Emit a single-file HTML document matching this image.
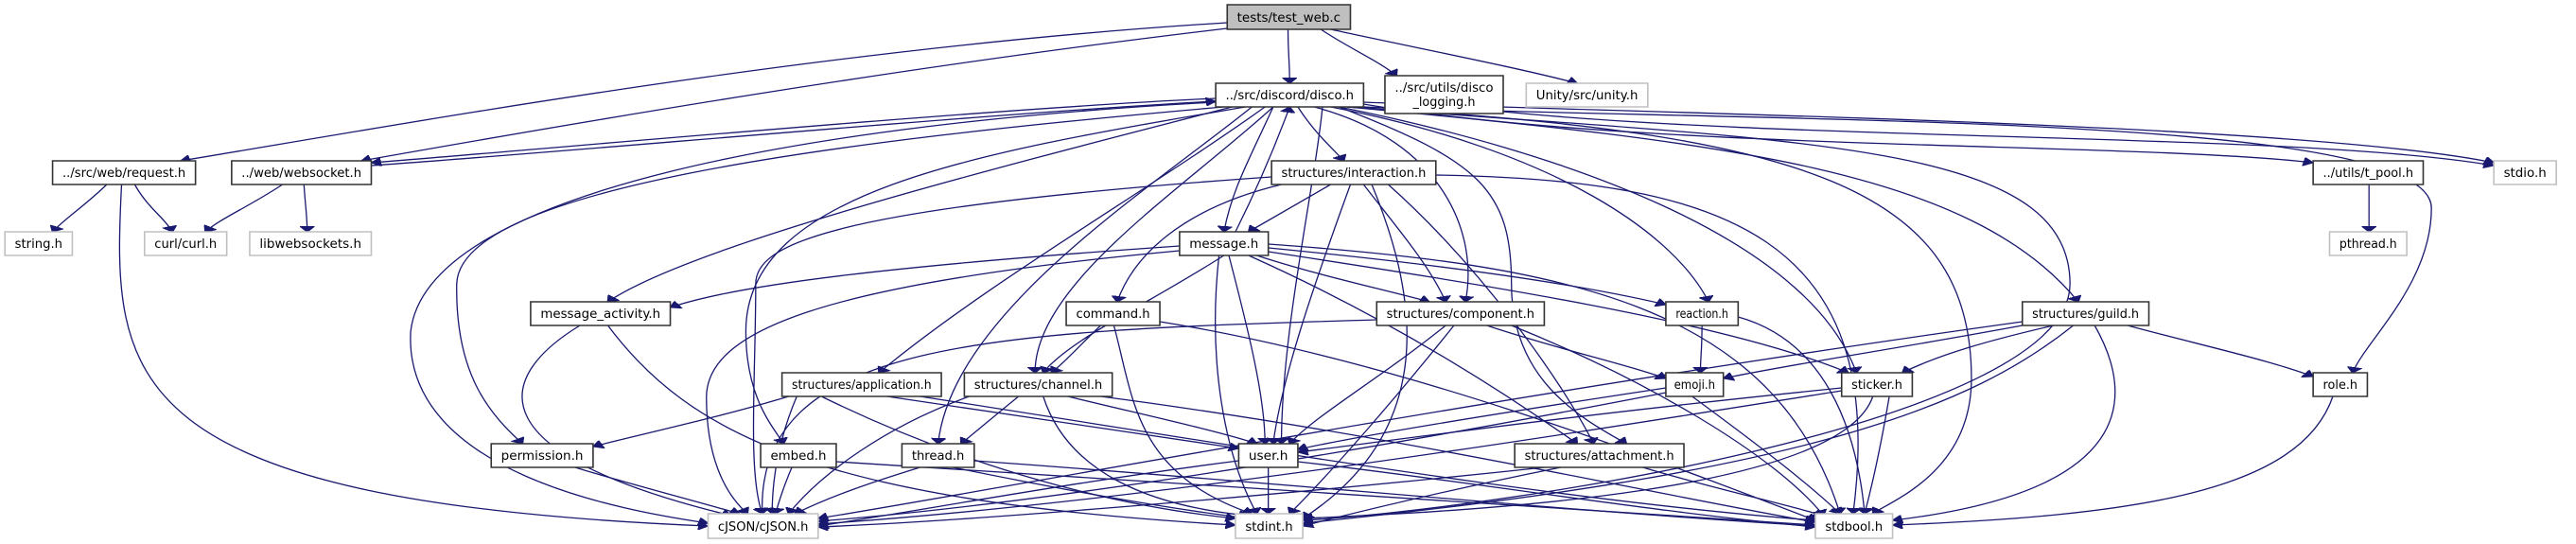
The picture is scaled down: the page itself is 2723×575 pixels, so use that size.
<!DOCTYPE html>
<html><head><meta charset="utf-8"><style>
html,body{margin:0;padding:0;background:#fff;}
svg{display:block;}
.b{fill:#fff;stroke:#333;stroke-width:1.6;vector-effect:non-scaling-stroke;}
.g{fill:#fff;stroke:#c0c0c0;stroke-width:1.6;vector-effect:non-scaling-stroke;}
.t{font-family:"DejaVu Sans","Liberation Sans",sans-serif;font-size:13px;fill:#000;text-anchor:middle;}
.e path{fill:none;stroke:#191970;stroke-width:1.3;vector-effect:non-scaling-stroke;}
</style></head><body>
<svg width="2723" height="575" viewBox="0 0 1568 575" preserveAspectRatio="none" xmlns="http://www.w3.org/2000/svg">
<defs><marker id="a" markerUnits="userSpaceOnUse" markerWidth="6" markerHeight="9" refX="6" refY="4.5" orient="auto"><path d="M0,0 L6,4.5 L0,9 z" fill="#191970" stroke="#191970"/></marker></defs>
<g class="e">
<path d="M784 31 C784 60 785 60 785 88" marker-end="url(#a)"/>
<path d="M804 31 C820 50 840 65 850 80" marker-end="url(#a)"/>
<path d="M810 31 C860 50 920 70 960 88" marker-end="url(#a)"/>
<path d="M747 24 C500 50 250 130 110 170" marker-end="url(#a)"/>
<path d="M747 30 C550 70 350 130 220 170" marker-end="url(#a)"/>
<path d="M740 104 C600 115 350 155 226 172" marker-end="url(#a)"/>
<path d="M226 175 C350 160 600 120 740 107" marker-end="url(#a)"/>
<path d="M740 108 C500 130 260 200 250 350 C245 500 380 540 431 553" marker-end="url(#a)"/>
<path d="M745 113 C500 150 280 200 278 300 C277 400 300 440 318 469" marker-end="url(#a)"/>
<path d="M750 113 C600 180 420 260 370 319" marker-end="url(#a)"/>
<path d="M758 113 C600 160 454 200 454 350 C454 420 470 450 477 469" marker-end="url(#a)"/>
<path d="M762 113 C700 200 580 330 571 469" marker-end="url(#a)"/>
<path d="M770 113 C700 200 600 300 535 394" marker-end="url(#a)"/>
<path d="M775 113 C720 200 630 300 630 394" marker-end="url(#a)"/>
<path d="M775 113 C760 170 750 200 745 245" marker-end="url(#a)"/>
<path d="M752 245 C765 200 775 160 785 113" marker-end="url(#a)"/>
<path d="M790 113 C800 140 810 155 818 170" marker-end="url(#a)"/>
<path d="M800 113 C880 150 900 250 892 319" marker-end="url(#a)"/>
<path d="M805 113 C800 200 780 350 780 469" marker-end="url(#a)"/>
<path d="M810 113 C950 160 1020 250 1040 319" marker-end="url(#a)"/>
<path d="M815 113 C950 160 1100 250 1130 394" marker-end="url(#a)"/>
<path d="M815 113 C900 170 920 200 920 300 C920 400 960 440 990 469" marker-end="url(#a)"/>
<path d="M820 113 C1050 150 1200 180 1265 319" marker-end="url(#a)"/>
<path d="M820 113 C1100 140 1200 200 1200 400 C1200 500 1150 530 1140 543" marker-end="url(#a)"/>
<path d="M820 113 C1100 150 1260 150 1260 300 C1260 450 900 540 793 550" marker-end="url(#a)"/>
<path d="M830 110 C1000 160 1300 150 1408 172" marker-end="url(#a)"/>
<path d="M830 108 C1000 120 1400 130 1518 172" marker-end="url(#a)"/>
<path d="M830 113 C1100 130 1480 120 1480 220 C1480 300 1440 360 1432 394" marker-end="url(#a)"/>
<path d="M915 118 C1100 150 1400 140 1518 175" marker-end="url(#a)"/>
<path d="M172 195 C150 220 135 230 125 245" marker-end="url(#a)"/>
<path d="M185 195 C186 220 187 230 187 245" marker-end="url(#a)"/>
<path d="M65 195 C50 220 40 230 32 245" marker-end="url(#a)"/>
<path d="M82 195 C90 220 100 230 105 245" marker-end="url(#a)"/>
<path d="M74 195 C68 400 70 530 431 556" marker-end="url(#a)"/>
<path d="M1442 195 L1442 245" marker-end="url(#a)"/>
<path d="M810 195 C790 215 775 230 760 245" marker-end="url(#a)"/>
<path d="M780 195 C720 220 690 270 680 319" marker-end="url(#a)"/>
<path d="M830 195 C850 240 870 280 880 319" marker-end="url(#a)"/>
<path d="M822 195 C800 300 780 400 775 469" marker-end="url(#a)"/>
<path d="M774 187 C500 220 460 260 460 300 C460 400 455 500 464 543" marker-end="url(#a)"/>
<path d="M835 195 C860 300 880 450 793 548" marker-end="url(#a)"/>
<path d="M874 185 C1050 190 1150 250 1128 543" marker-end="url(#a)"/>
<path d="M845 195 C900 280 950 400 970 469" marker-end="url(#a)"/>
<path d="M718 260 C550 280 450 300 408 325" marker-end="url(#a)"/>
<path d="M745 270 C700 320 650 360 635 394" marker-end="url(#a)"/>
<path d="M748 270 C760 350 770 420 770 469" marker-end="url(#a)"/>
<path d="M742 270 C735 380 745 480 765 543" marker-end="url(#a)"/>
<path d="M765 270 C800 290 840 305 870 319" marker-end="url(#a)"/>
<path d="M772 262 C880 280 960 300 1014 322" marker-end="url(#a)"/>
<path d="M772 266 C900 300 1050 340 1125 394" marker-end="url(#a)"/>
<path d="M760 270 C850 340 920 420 960 469" marker-end="url(#a)"/>
<path d="M772 258 C950 280 1080 320 1120 543" marker-end="url(#a)"/>
<path d="M718 265 C500 300 430 350 430 420 C430 480 440 520 455 543" marker-end="url(#a)"/>
<path d="M353 344 C300 400 290 480 445 545" marker-end="url(#a)"/>
<path d="M370 344 C420 460 500 530 752 555" marker-end="url(#a)"/>
<path d="M670 344 C660 360 650 380 640 394" marker-end="url(#a)"/>
<path d="M678 344 C690 420 690 500 762 543" marker-end="url(#a)"/>
<path d="M706 340 C850 380 1000 480 1105 550" marker-end="url(#a)"/>
<path d="M838 338 C600 350 460 360 464 543" marker-end="url(#a)"/>
<path d="M905 344 C950 370 990 385 1014 400" marker-end="url(#a)"/>
<path d="M880 344 C840 400 800 440 785 469" marker-end="url(#a)"/>
<path d="M885 344 C850 420 810 500 785 543" marker-end="url(#a)"/>
<path d="M920 344 C1000 400 1080 480 1110 545" marker-end="url(#a)"/>
<path d="M1036 344 C1036 370 1035 380 1035 394" marker-end="url(#a)"/>
<path d="M1058 335 C1110 360 1130 450 1135 543" marker-end="url(#a)"/>
<path d="M1231 344 C1150 370 1090 385 1049 400" marker-end="url(#a)"/>
<path d="M1250 344 C1210 360 1180 375 1158 394" marker-end="url(#a)"/>
<path d="M1295 344 C1340 365 1380 380 1408 398" marker-end="url(#a)"/>
<path d="M1275 344 C1300 420 1300 520 1152 550" marker-end="url(#a)"/>
<path d="M1262 344 C1200 430 1100 500 793 553" marker-end="url(#a)"/>
<path d="M1231 340 C900 420 600 520 498 548" marker-end="url(#a)"/>
<path d="M480 419 C440 440 400 455 361 472" marker-end="url(#a)"/>
<path d="M540 419 C620 440 700 460 754 474" marker-end="url(#a)"/>
<path d="M500 419 C560 470 650 530 752 548" marker-end="url(#a)"/>
<path d="M560 419 C750 470 950 530 1105 550" marker-end="url(#a)"/>
<path d="M485 419 C475 460 470 500 470 543" marker-end="url(#a)"/>
<path d="M620 419 C605 440 595 455 585 469" marker-end="url(#a)"/>
<path d="M650 419 C700 440 740 455 765 469" marker-end="url(#a)"/>
<path d="M635 419 C650 500 700 535 760 545" marker-end="url(#a)"/>
<path d="M670 419 C850 460 1000 520 1105 552" marker-end="url(#a)"/>
<path d="M590 419 C540 450 500 500 480 543" marker-end="url(#a)"/>
<path d="M1014 410 C900 440 830 460 790 475" marker-end="url(#a)"/>
<path d="M1030 419 C1070 470 1100 510 1120 543" marker-end="url(#a)"/>
<path d="M1014 415 C850 470 650 530 498 551" marker-end="url(#a)"/>
<path d="M1121 410 C950 440 850 465 790 478" marker-end="url(#a)"/>
<path d="M1150 419 C1145 470 1140 510 1135 543" marker-end="url(#a)"/>
<path d="M1140 419 C1120 520 900 540 793 548" marker-end="url(#a)"/>
<path d="M1121 413 C950 460 700 530 498 554" marker-end="url(#a)"/>
<path d="M1420 419 C1400 520 1300 545 1152 555" marker-end="url(#a)"/>
<path d="M350 494 C380 510 420 528 450 543" marker-end="url(#a)"/>
<path d="M482 494 C478 510 475 525 472 543" marker-end="url(#a)"/>
<path d="M509 488 C700 510 950 535 1105 555" marker-end="url(#a)"/>
<path d="M560 494 C530 510 505 525 484 543" marker-end="url(#a)"/>
<path d="M580 494 C640 515 700 535 760 548" marker-end="url(#a)"/>
<path d="M593 487 C780 510 950 540 1105 556" marker-end="url(#a)"/>
<path d="M772 494 L772 543" marker-end="url(#a)"/>
<path d="M754 487 C650 510 560 540 498 556" marker-end="url(#a)"/>
<path d="M790 488 C900 510 1000 540 1105 557" marker-end="url(#a)"/>
<path d="M940 494 C800 520 600 550 498 557" marker-end="url(#a)"/>
<path d="M950 494 C890 515 840 535 793 556" marker-end="url(#a)"/>
<path d="M1000 494 C1040 515 1080 530 1110 545" marker-end="url(#a)"/>
</g>
<g>
<rect x="747" y="5" width="75" height="26" fill="#bfbfbf" stroke="#333" stroke-width="1.6" vector-effect="non-scaling-stroke"/><text class="t" x="784.5" y="23" textLength="63" lengthAdjust="spacingAndGlyphs">tests/test_web.c</text>
<rect class="b" x="740" y="88" width="90" height="25"/><text class="t" x="785" y="105" textLength="78" lengthAdjust="spacingAndGlyphs">../src/discord/disco.h</text>
<rect class="b" x="843" y="80" width="72" height="40"/><text class="t" x="879" y="97" textLength="60" lengthAdjust="spacingAndGlyphs">../src/utils/disco</text><text class="t" x="879" y="112" textLength="38" lengthAdjust="spacingAndGlyphs">_logging.h</text>
<rect class="g" x="929" y="88" width="74" height="25"/><text class="t" x="966" y="105" textLength="62" lengthAdjust="spacingAndGlyphs">Unity/src/unity.h</text>
<rect class="b" x="32" y="170" width="87" height="25"/><text class="t" x="75.5" y="187" textLength="75" lengthAdjust="spacingAndGlyphs">../src/web/request.h</text>
<rect class="b" x="141" y="170" width="85" height="25"/><text class="t" x="183.5" y="187" textLength="73" lengthAdjust="spacingAndGlyphs">../web/websocket.h</text>
<rect class="b" x="774" y="170" width="100" height="25"/><text class="t" x="824" y="187" textLength="88" lengthAdjust="spacingAndGlyphs">structures/interaction.h</text>
<rect class="b" x="1408" y="170" width="67" height="25"/><text class="t" x="1441.5" y="187" textLength="55" lengthAdjust="spacingAndGlyphs">../utils/t_pool.h</text>
<rect class="g" x="1518" y="170" width="38" height="25"/><text class="t" x="1537" y="187" textLength="26" lengthAdjust="spacingAndGlyphs">stdio.h</text>
<rect class="g" x="3" y="245" width="41" height="25"/><text class="t" x="23.5" y="262" textLength="29" lengthAdjust="spacingAndGlyphs">string.h</text>
<rect class="g" x="88" y="245" width="50" height="25"/><text class="t" x="113" y="262" textLength="38" lengthAdjust="spacingAndGlyphs">curl/curl.h</text>
<rect class="g" x="152" y="245" width="74" height="25"/><text class="t" x="189" y="262" textLength="62" lengthAdjust="spacingAndGlyphs">libwebsockets.h</text>
<rect class="b" x="718" y="245" width="54" height="25"/><text class="t" x="745" y="262" textLength="42" lengthAdjust="spacingAndGlyphs">message.h</text>
<rect class="g" x="1418" y="245" width="47" height="25"/><text class="t" x="1441.5" y="262" textLength="35" lengthAdjust="spacingAndGlyphs">pthread.h</text>
<rect class="b" x="323" y="319" width="85" height="25"/><text class="t" x="365.5" y="336" textLength="73" lengthAdjust="spacingAndGlyphs">message_activity.h</text>
<rect class="b" x="649" y="319" width="57" height="25"/><text class="t" x="677.5" y="336" textLength="45" lengthAdjust="spacingAndGlyphs">command.h</text>
<rect class="b" x="838" y="319" width="102" height="25"/><text class="t" x="889" y="336" textLength="90" lengthAdjust="spacingAndGlyphs">structures/component.h</text>
<rect class="b" x="1014" y="319" width="44" height="25"/><text class="t" x="1036" y="336" textLength="32" lengthAdjust="spacingAndGlyphs">reaction.h</text>
<rect class="b" x="1231" y="319" width="77" height="25"/><text class="t" x="1269.5" y="336" textLength="65" lengthAdjust="spacingAndGlyphs">structures/guild.h</text>
<rect class="b" x="476" y="394" width="97" height="25"/><text class="t" x="524.5" y="411" textLength="85" lengthAdjust="spacingAndGlyphs">structures/application.h</text>
<rect class="b" x="587" y="394" width="90" height="25"/><text class="t" x="632" y="411" textLength="78" lengthAdjust="spacingAndGlyphs">structures/channel.h</text>
<rect class="b" x="1014" y="394" width="35" height="25"/><text class="t" x="1031.5" y="411" textLength="25" lengthAdjust="spacingAndGlyphs">emoji.h</text>
<rect class="b" x="1121" y="394" width="43" height="25"/><text class="t" x="1142.5" y="411" textLength="31" lengthAdjust="spacingAndGlyphs">sticker.h</text>
<rect class="b" x="1408" y="394" width="33" height="25"/><text class="t" x="1424.5" y="411" textLength="21" lengthAdjust="spacingAndGlyphs">role.h</text>
<rect class="b" x="299" y="469" width="62" height="25"/><text class="t" x="330" y="486" textLength="50" lengthAdjust="spacingAndGlyphs">permission.h</text>
<rect class="b" x="463" y="469" width="46" height="25"/><text class="t" x="486" y="486" textLength="34" lengthAdjust="spacingAndGlyphs">embed.h</text>
<rect class="b" x="549" y="469" width="44" height="25"/><text class="t" x="571" y="486" textLength="32" lengthAdjust="spacingAndGlyphs">thread.h</text>
<rect class="b" x="754" y="469" width="36" height="25"/><text class="t" x="772" y="486" textLength="24" lengthAdjust="spacingAndGlyphs">user.h</text>
<rect class="b" x="922" y="469" width="103" height="25"/><text class="t" x="973.5" y="486" textLength="91" lengthAdjust="spacingAndGlyphs">structures/attachment.h</text>
<rect class="g" x="431" y="543" width="67" height="26"/><text class="t" x="464.5" y="561" textLength="55" lengthAdjust="spacingAndGlyphs">cJSON/cJSON.h</text>
<rect class="g" x="752" y="543" width="41" height="26"/><text class="t" x="772.5" y="561" textLength="29" lengthAdjust="spacingAndGlyphs">stdint.h</text>
<rect class="g" x="1105" y="543" width="47" height="26"/><text class="t" x="1128.5" y="561" textLength="35" lengthAdjust="spacingAndGlyphs">stdbool.h</text>
</g>
</svg>
</body></html>
